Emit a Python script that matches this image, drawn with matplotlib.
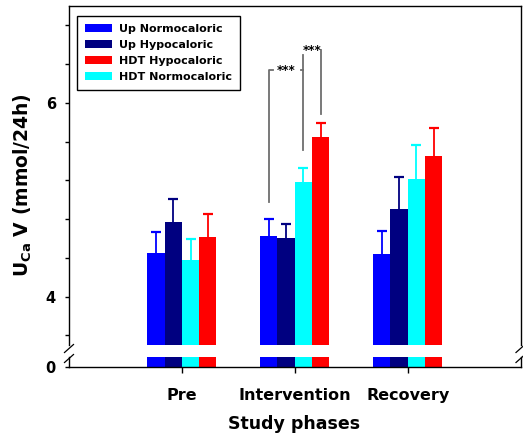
import matplotlib
matplotlib.use("Agg")
import matplotlib.pyplot as plt
import numpy as np
from matplotlib.lines import Line2D

# Data
phases = ['Pre', 'Intervention', 'Recovery']
series_names = ['Up Normocaloric', 'Up Hypocaloric', 'HDT Normocaloric', 'HDT Hypocaloric']
up_normo = [4.45, 4.63, 4.44]
up_normo_err = [0.22, 0.17, 0.24]
up_hypo = [4.77, 4.60, 4.90]
up_hypo_err = [0.24, 0.15, 0.33]
hdt_normo = [4.38, 5.18, 5.21]
hdt_normo_err = [0.21, 0.15, 0.36]
hdt_hypo = [4.62, 5.65, 5.45]
hdt_hypo_err = [0.23, 0.14, 0.29]
colors = ['#0000ff', '#000080', '#00ffff', '#ff0000']
legend_order = ['Up Normocaloric', 'Up Hypocaloric', 'HDT Hypocaloric', 'HDT Normocaloric']
ytick_vals = [3.6, 4.0, 4.4, 4.8, 5.2, 5.6, 6.0, 6.4, 6.8]
ytick_labels = ['', '4', '', '', '', '', '6', '', '']

plt.rcParams['font.family'] = 'DejaVu Sans'
plt.rcParams['font.weight'] = 'bold'
plt.rcParams['mathtext.fontset'] = 'custom'
plt.rcParams['mathtext.rm'] = 'DejaVu Sans:bold'
plt.rcParams['mathtext.bf'] = 'DejaVu Sans:bold'

W, H = 523, 440
def rect(l, t, r, b):
    return [l / W, 1 - b / H, (r - l) / W, (b - t) / H]

fig = plt.figure(figsize=(W / 100, H / 100), dpi=100)
ax = fig.add_axes(rect(69, 6, 520.5, 345))
axb = fig.add_axes(rect(69, 357, 520.5, 367), sharex=ax)

values = [up_normo, up_hypo, hdt_normo, hdt_hypo]
errors = [up_normo_err, up_hypo_err, hdt_normo_err, hdt_hypo_err]
x = np.arange(1, len(phases) + 1)
w = 0.153
offsets = [-1.5 * w, -0.5 * w, 0.5 * w, 1.5 * w]

handles = {}
for vals, errs, col, off, name in zip(values, errors, colors, offsets, series_names):
    b = ax.bar(x + off, vals, w, color=col, linewidth=0, label=name)
    axb.bar(x + off, vals, w, color=col, linewidth=0)
    eb = ax.errorbar(x + off, vals, yerr=[np.zeros(len(errs)), errs], fmt='none',
                     ecolor=col, elinewidth=1.3, capsize=3.3, capthick=1.6)
    # only the upper cap
    eb[1][0].set_visible(False)
    handles[name] = b

ax.set_xlim(0, 4)
ax.set_ylim(3.5, 7.0)
axb.set_ylim(0, 1)

ax.set_yticks(ytick_vals)
ax.set_yticklabels(ytick_labels)
axb.set_yticks([0])
axb.set_yticklabels(['0'])
axb.set_xticks(x)
axb.set_xticklabels(phases)

for a in (ax, axb):
    a.tick_params(axis='y', direction='out', length=3, width=1, pad=6.5, labelsize=10.5)
    for s in a.spines.values():
        s.set_linewidth(1.0)
ax.tick_params(axis='x', bottom=False, labelbottom=False)
axb.tick_params(axis='x', direction='out', length=4, width=1, pad=11, labelsize=11.5)
ax.spines['bottom'].set_visible(False)
axb.spines['top'].set_visible(False)

# break marks on the y axis
for xs in (69, 520.5):
    for yc in (348.5, 358.5):
        fig.add_artist(Line2D([(xs - 4.5) / W, (xs + 4.5) / W],
                              [1 - (yc + 4) / H, 1 - (yc - 4) / H],
                              transform=fig.transFigure, color='black', lw=0.9))

# significance brackets (Intervention group)
gx = x[1]
xb, xc, xr = gx + offsets[0], gx + offsets[2], gx + offsets[3]
gray = '#6e6e6e'
ax.plot([xb, xb, xb + 0.04], [4.98, 6.34, 6.34], color=gray, lw=1.3)
ax.plot([xc - 0.024, xc], [6.34, 6.34], color=gray, lw=1.3)
ax.plot([xc, xc], [5.51, 6.49], color=gray, lw=1.3)
ax.plot([xr, xr], [5.89, 6.55], color=gray, lw=1.3)
ax.text((xb + xc) / 2, 6.33, '***', ha='center', va='center', fontsize=8.5)
ax.text((xc + xr) / 2 + 0.005, 6.54, '***', ha='center', va='center', fontsize=8.5)

leg = ax.legend([handles[n] for n in legend_order], legend_order,
                loc='upper left', bbox_to_anchor=(0.018, 0.971), borderaxespad=0,
                fontsize=8, fancybox=False, edgecolor='black', framealpha=1,
                handlelength=2.45, handleheight=0.7, handletextpad=0.6,
                labelspacing=0.55, borderpad=0.7)
leg.get_frame().set_linewidth(1.0)

fig.text(23 / W, 1 - 185 / H, r'U$_{\rm Ca}$ V (mmol/24h)', rotation=90,
         ha='center', va='center', fontsize=13.5)
fig.text(294.5 / W, 1 - 424 / H, 'Study phases', ha='center', va='center', fontsize=12.5)

fig.savefig('out.png', dpi=100)
